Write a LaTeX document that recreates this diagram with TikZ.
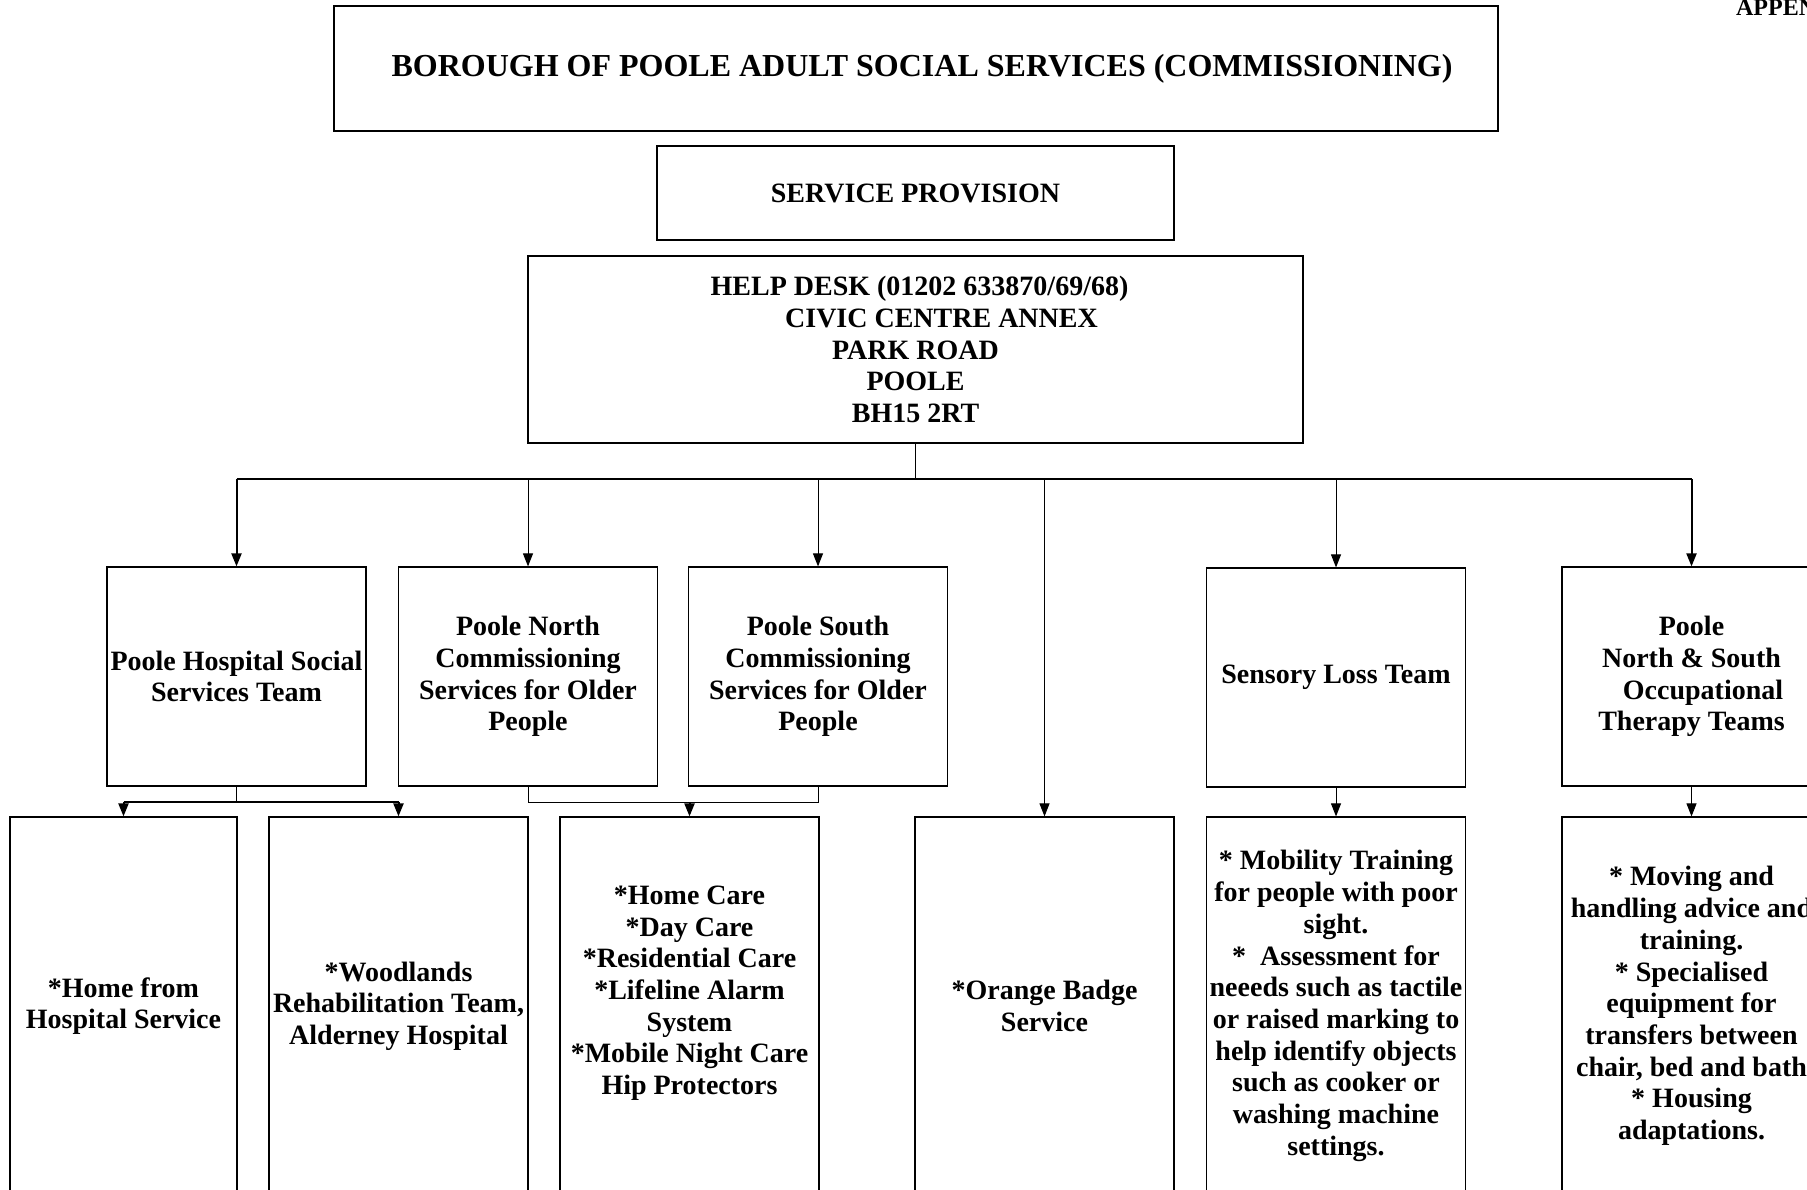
\documentclass[tikz,border=0pt]{standalone}
\usepackage{fontspec}
\setmainfont{Liberation Serif}
\usetikzlibrary{arrows.meta, positioning}
\tikzset{box/.style={draw=black, line width=0.6pt, inner sep=0pt, align=center, font=\bfseries\fontsize{14}{15.85}\selectfont},
	team/.style={box, minimum width=129.5pt, minimum height=109.5pt},
	service/.style={box, minimum width=129.5pt, minimum height=189pt},
	link/.style={line width=0.5pt},
	boldlink/.style={line width=1pt}}

\begin{document}
\begin{tikzpicture}[x=0.5pt, y=-0.5pt, >={Triangle[length=6.5pt, width=5pt]}]
\newcommand{\busY}{479}
\newcommand{\joinY}{802}
	%Rahmen
	\useasboundingbox (0,0) rectangle (1807,1189);
	\clip (0,0) rectangle (1807,1189);
	%Kopf
	\node[anchor=base west, font=\bfseries\fontsize{12}{14}\selectfont] (appendix) at (1729,15) {APPENDIX};
	\node[box, minimum width=582pt, minimum height=62.5pt, font=\bfseries\fontsize{16}{18}\selectfont] (title) at (916,68.5) {\hspace*{6pt}BOROUGH OF POOLE ADULT SOCIAL SERVICES (COMMISSIONING)};
	\node[box, minimum width=258.5pt, minimum height=47pt] (provision) at (915.5,193) {SERVICE PROVISION};
	\node[box, minimum width=387.5pt, minimum height=93.5pt] (helpdesk) at (915.5,349.5) {\hspace*{4pt}HELP DESK (01202 633870/69/68)\\\hspace*{26pt}CIVIC CENTRE ANNEX\\PARK ROAD\\POOLE\\BH15 2RT};
	%Teams
	\node[team] (hospital) at (236.5,676.5) {Poole Hospital Social\\Services Team};
	\node[team] (pnorth) at (528,676.5) {Poole North\\Commissioning\\Services for Older\\People};
	\node[team] (psouth) at (818,676.5) {Poole South\\Commissioning\\Services for Older\\People};
	\node[team] (sensory) at (1336,677.5) {Sensory Loss Team};
	\node[team] (ot) at (1691.5,676.5) {Poole\\North \& South\\\hspace*{11.5pt}Occupational\\Therapy Teams};
	%Angebote
	\node[service, minimum width=113.5pt] (homefrom) at (123.5,1006) {*Home from\\Hospital Service};
	\node[service] (woodlands) at (398.5,1006) {*Woodlands\\Rehabilitation Team,\\Alderney Hospital};
	\node[service] (homecare) at (689.5,1006) {*Home Care\\{}*Day Care\\{}*Residential Care\\{}*Lifeline Alarm\\System\\{}*Mobile Night Care\\Hip Protectors\\~};
	\node[service] (badge) at (1044.5,1006) {*Orange Badge\\Service};
	\node[service] (mobility) at (1336,1006) {* Mobility Training\\for people with poor\\sight.\\{}*\ \ Assessment for\\neeeds such as tactile\\or raised marking to\\help identify objects\\such as cooker or\\washing machine\\settings.};
	\node[service] (handling) at (1691.5,1006) {* Moving and\\handling advice and\\training.\\{}* Specialised\\equipment for\\transfers between\\chair, bed and bath\\{}* Housing\\adaptations.};
	%Verteiler
	\coordinate (bus) at (915.5,\busY);
	\draw[link] (helpdesk.south) -- (bus);
	\draw[boldlink] (hospital.north |- bus) -- (ot.north |- bus);
	\draw[boldlink, ->] (hospital.north |- bus) -- (hospital.north);
	\foreach \t in {pnorth, psouth, badge, sensory}
		\draw[link, ->] (\t.north |- bus) -- (\t.north);
	\draw[boldlink, ->] (ot.north |- bus) -- (ot.north);
	%zweite Ebene
	\coordinate (hj) at (236.5,\joinY);
	\draw[link] (hospital.south) -- (hj);
	\draw[boldlink] (homefrom.north |- hj) -- (woodlands.north |- hj);
	\draw[boldlink, ->] (homefrom.north |- hj) -- (homefrom.north);
	\draw[boldlink, ->] (woodlands.north |- hj) -- (woodlands.north);
	\draw[link] (pnorth.south) -- (pnorth.south |- hj) -- (psouth.south |- hj) -- (psouth.south);
	\draw[boldlink, ->] (homecare.north |- hj) -- (homecare.north);
	\draw[link, ->] (sensory.south) -- (mobility.north);
	\draw[link, ->] (ot.south) -- (handling.north);
\end{tikzpicture}
\end{document}
